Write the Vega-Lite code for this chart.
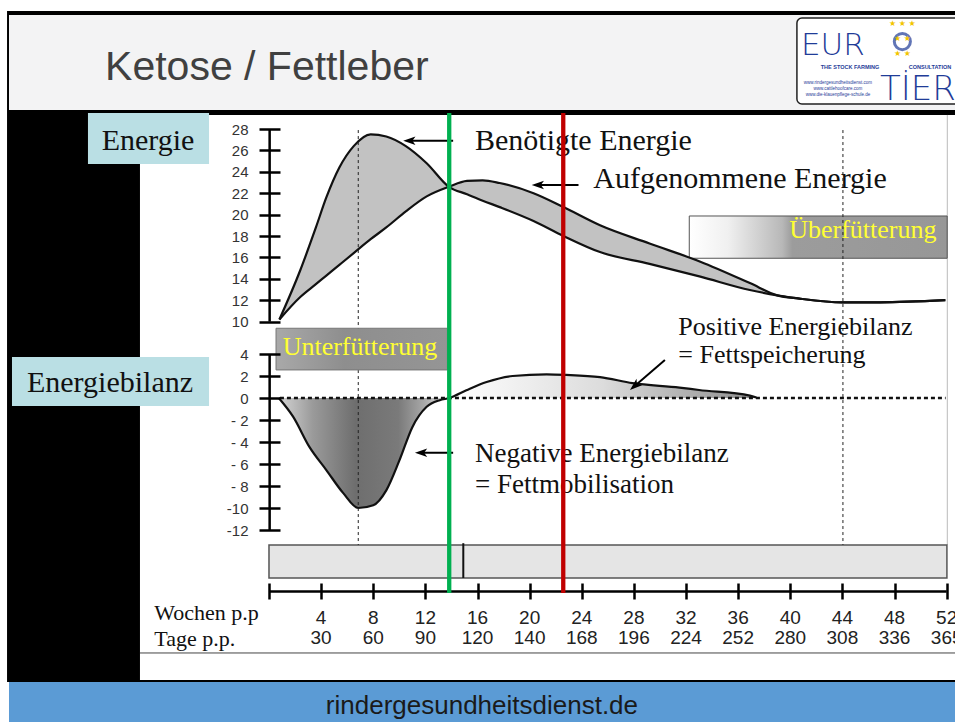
{
  "$schema": "https://vega.github.io/schema/vega-lite/v6.json",
  "width": 955,
  "height": 722,
  "autosize": {"type": "none"},
  "padding": 0,
  "background": "#ffffff",
  "config": {"view": {"stroke": null}, "axis": {"grid": false, "title": null}},
  "datasets": {
    "eins": [{}],
    "energie": [
      {"woche": 0.8, "benoetigt": 10.2, "aufgenommen": 10.2},
      {"woche": 2.4, "benoetigt": 14.8, "aufgenommen": 12.3},
      {"woche": 3.6, "benoetigt": 18.8, "aufgenommen": 13.5},
      {"woche": 4.4, "benoetigt": 21.6, "aufgenommen": 14.3},
      {"woche": 5.4, "benoetigt": 24.4, "aufgenommen": 15.3},
      {"woche": 6.5, "benoetigt": 26.4, "aufgenommen": 16.4},
      {"woche": 7.8, "benoetigt": 27.5, "aufgenommen": 17.7},
      {"woche": 9.0, "benoetigt": 27.3, "aufgenommen": 18.8},
      {"woche": 10.5, "benoetigt": 26.4, "aufgenommen": 20.3},
      {"woche": 12.1, "benoetigt": 24.8, "aufgenommen": 21.7},
      {"woche": 13.8, "benoetigt": 22.6, "aufgenommen": 22.6},
      {"woche": 15.2, "benoetigt": 21.9, "aufgenommen": 23.15},
      {"woche": 16.4, "benoetigt": 21.3, "aufgenommen": 23.2},
      {"woche": 17.7, "benoetigt": 20.7, "aufgenommen": 22.95},
      {"woche": 20.3, "benoetigt": 19.4, "aufgenommen": 22.0},
      {"woche": 22.6, "benoetigt": 18.0, "aufgenommen": 20.7},
      {"woche": 25.4, "benoetigt": 16.5, "aufgenommen": 19.0},
      {"woche": 29.2, "benoetigt": 15.4, "aufgenommen": 17.3},
      {"woche": 33.1, "benoetigt": 14.2, "aufgenommen": 15.6},
      {"woche": 36.9, "benoetigt": 12.95, "aufgenommen": 13.6},
      {"woche": 39.0, "benoetigt": 12.45, "aufgenommen": 12.45},
      {"woche": 40.7, "benoetigt": 12.15, "aufgenommen": 12.15},
      {"woche": 44.0, "benoetigt": 11.8, "aufgenommen": 11.8},
      {"woche": 46.9, "benoetigt": 11.8, "aufgenommen": 11.8},
      {"woche": 51.9, "benoetigt": 12.0, "aufgenommen": 12.0}
    ],
    "bilanz": [
      {"woche": 0.75, "bilanz": 0, "phase": "neg"},
      {"woche": 1.85, "bilanz": -1.7, "phase": "neg"},
      {"woche": 3.1, "bilanz": -4.45, "phase": "neg"},
      {"woche": 4.4, "bilanz": -6.55, "phase": "neg"},
      {"woche": 5.7, "bilanz": -8.65, "phase": "neg"},
      {"woche": 6.85, "bilanz": -10.0, "phase": "neg"},
      {"woche": 8.0, "bilanz": -9.75, "phase": "neg"},
      {"woche": 9.0, "bilanz": -8.4, "phase": "neg"},
      {"woche": 10.0, "bilanz": -5.7, "phase": "neg"},
      {"woche": 11.0, "bilanz": -2.65, "phase": "neg"},
      {"woche": 12.1, "bilanz": -0.8, "phase": "neg"},
      {"woche": 13.1, "bilanz": -0.2, "phase": "neg"},
      {"woche": 13.85, "bilanz": 0, "phase": "beide"},
      {"woche": 15.15, "bilanz": 0.7, "phase": "pos"},
      {"woche": 16.7, "bilanz": 1.45, "phase": "pos"},
      {"woche": 18.7, "bilanz": 2.0, "phase": "pos"},
      {"woche": 21.3, "bilanz": 2.15, "phase": "pos"},
      {"woche": 22.8, "bilanz": 2.1, "phase": "pos"},
      {"woche": 25.4, "bilanz": 1.9, "phase": "pos"},
      {"woche": 27.9, "bilanz": 1.35, "phase": "pos"},
      {"woche": 31.5, "bilanz": 0.95, "phase": "pos"},
      {"woche": 33.0, "bilanz": 0.73, "phase": "pos"},
      {"woche": 36.9, "bilanz": 0.22, "phase": "pos"},
      {"woche": 37.4, "bilanz": 0.04, "phase": "pos"}
    ],
    "zeit": [
      {"woche": 4, "tage": 30}, {"woche": 8, "tage": 60}, {"woche": 12, "tage": 90},
      {"woche": 16, "tage": 120}, {"woche": 20, "tage": 140}, {"woche": 24, "tage": 168},
      {"woche": 28, "tage": 196}, {"woche": 32, "tage": 224}, {"woche": 36, "tage": 252},
      {"woche": 40, "tage": 280}, {"woche": 44, "tage": 308}, {"woche": 48, "tage": 336},
      {"woche": 52, "tage": 365}
    ]
  },
  "resolve": {"scale": {"y": "independent"}},
  "layer": [
    {
      "layer": [
        {"data": {"name": "eins"}, "mark": {"type": "rect", "color": "#000000"},
         "encoding": {"x": {"datum": -20.1, "type": "quantitative", "scale": {"domain": [-20.64, 52.64]},
                            "axis": {"orient": "bottom", "offset": -139, "values": [0, 4, 8, 12, 16, 20, 24, 28, 32, 36, 40, 44, 48, 52], "labels": false, "domain": false, "grid": false, "title": null,
                                     "ticks": true, "tickSize": 16, "tickWidth": 2.5, "tickColor": "#000000", "zindex": 1}},
                      "x2": {"datum": 53},
                      "y": {"datum": 35.18, "type": "quantitative", "scale": {"domain": [-29.4545, 36.1818]}, "axis": null}, "y2": {"datum": -25.82}}},
        {"data": {"name": "eins"}, "mark": {"type": "rect", "color": "#f3f3f4"},
         "encoding": {"x": {"datum": -19.95, "type": "quantitative", "scale": {"domain": [-20.64, 52.64]}}, "x2": {"datum": 53},
                      "y": {"datum": 34.82, "type": "quantitative", "scale": {"domain": [-29.4545, 36.1818]}, "axis": null}, "y2": {"datum": 26.18}}},
        {"data": {"name": "eins"}, "mark": {"type": "rect", "color": "#ffffff"},
         "encoding": {"x": {"datum": -9.9, "type": "quantitative", "scale": {"domain": [-20.64, 52.64]}}, "x2": {"datum": 53},
                      "y": {"datum": 25.73, "type": "quantitative", "scale": {"domain": [-29.4545, 36.1818]}, "axis": null}, "y2": {"datum": -25.64}}},
        {"data": {"name": "eins"}, "mark": {"type": "rect", "color": "#5b9bd5"},
         "encoding": {"x": {"datum": -19.95, "type": "quantitative", "scale": {"domain": [-20.64, 52.64]}}, "x2": {"datum": 53},
                      "y": {"datum": -25.82, "type": "quantitative", "scale": {"domain": [-29.4545, 36.1818]}, "axis": null}, "y2": {"datum": -30}}},
        {"data": {"name": "eins"}, "mark": {"type": "rule", "color": "#444444", "strokeWidth": 1},
         "encoding": {"x": {"datum": -9.9, "type": "quantitative", "scale": {"domain": [-20.64, 52.64]}}, "x2": {"datum": 53},
                      "y": {"datum": -23.18, "type": "quantitative", "scale": {"domain": [-29.4545, 36.1818]}, "axis": null}}},
        {"data": {"name": "eins"}, "mark": {"type": "rule", "color": "#bbbbbb", "strokeWidth": 1},
         "encoding": {"x": {"datum": 52.05, "type": "quantitative", "scale": {"domain": [-20.64, 52.64]}},
                      "y": {"datum": 25.73, "type": "quantitative", "scale": {"domain": [-29.4545, 36.1818]}, "axis": null}, "y2": {"datum": -13.36}}},
        {"data": {"name": "eins"}, "mark": {"type": "rect", "color": "#e5e5e5", "stroke": "#555555", "strokeWidth": 1.5},
         "encoding": {"x": {"datum": 0, "type": "quantitative", "scale": {"domain": [-20.64, 52.64]}}, "x2": {"datum": 52.02},
                      "y": {"datum": -13.36, "type": "quantitative", "scale": {"domain": [-29.4545, 36.1818]}, "axis": null}, "y2": {"datum": -16.36}}},
        {"data": {"name": "eins"}, "mark": {"type": "rule", "color": "#111111", "strokeWidth": 2},
         "encoding": {"x": {"datum": 14.91, "type": "quantitative", "scale": {"domain": [-20.64, 52.64]}},
                      "y": {"datum": -13.2, "type": "quantitative", "scale": {"domain": [-29.4545, 36.1818]}, "axis": null}, "y2": {"datum": -16.36}}},
        {"data": {"name": "eins"}, "mark": {"type": "rect", "color": "#badfe4"},
         "encoding": {"x": {"datum": -13.89, "type": "quantitative", "scale": {"domain": [-20.64, 52.64]}}, "x2": {"datum": -4.6},
                      "y": {"datum": 25.91, "type": "quantitative", "scale": {"domain": [-29.4545, 36.1818]}, "axis": null}, "y2": {"datum": 21.27}}},
        {"data": {"name": "eins"}, "mark": {"type": "rect", "color": "#badfe4"},
         "encoding": {"x": {"datum": -19.72, "type": "quantitative", "scale": {"domain": [-20.64, 52.64]}}, "x2": {"datum": -4.6},
                      "y": {"datum": 3.73, "type": "quantitative", "scale": {"domain": [-29.4545, 36.1818]}, "axis": null}, "y2": {"datum": -0.73}}},
        {"data": {"name": "eins"}, "mark": {"type": "text", "font": "Liberation Serif", "fontSize": 30, "align": "center", "baseline": "alphabetic", "color": "#111111"},
         "encoding": {"x": {"datum": -9.28, "type": "quantitative", "scale": {"domain": [-20.64, 52.64]}},
                      "y": {"datum": 22.55, "type": "quantitative", "scale": {"domain": [-29.4545, 36.1818]}, "axis": null}, "text": {"value": "Energie"}}},
        {"data": {"name": "eins"}, "mark": {"type": "text", "font": "Liberation Serif", "fontSize": 30, "align": "center", "baseline": "alphabetic", "color": "#111111"},
         "encoding": {"x": {"datum": -12.2, "type": "quantitative", "scale": {"domain": [-20.64, 52.64]}},
                      "y": {"datum": 0.57, "type": "quantitative", "scale": {"domain": [-29.4545, 36.1818]}, "axis": null}, "text": {"value": "Energiebilanz"}}},
        {"data": {"name": "eins"}, "mark": {"type": "text", "font": "Liberation Sans", "fontSize": 41, "align": "left", "baseline": "alphabetic", "color": "#404040"},
         "encoding": {"x": {"datum": -12.58, "type": "quantitative", "scale": {"domain": [-20.64, 52.64]}},
                      "y": {"datum": 28.91, "type": "quantitative", "scale": {"domain": [-29.4545, 36.1818]}, "axis": null}, "text": {"value": "Ketose / Fettleber"}}},
        {"data": {"name": "eins"}, "mark": {"type": "text", "font": "Liberation Sans", "fontSize": 26, "align": "center", "baseline": "alphabetic", "color": "#1a1a1a"},
         "encoding": {"x": {"datum": 16.34, "type": "quantitative", "scale": {"domain": [-20.64, 52.64]}},
                      "y": {"datum": -28.73, "type": "quantitative", "scale": {"domain": [-29.4545, 36.1818]}, "axis": null}, "text": {"value": "rindergesundheitsdienst.de"}}},
        {"data": {"name": "eins"}, "mark": {"type": "rect", "color": "#ffffff", "stroke": "#222222", "strokeWidth": 1.5, "cornerRadius": 5},
         "encoding": {"x": {"datum": 40.51, "type": "quantitative", "scale": {"domain": [-20.64, 52.64]}}, "x2": {"datum": 53.3},
                      "y": {"datum": 34.55, "type": "quantitative", "scale": {"domain": [-29.4545, 36.1818]}, "axis": null}, "y2": {"datum": 26.73}}},
        {"data": {"name": "eins"}, "mark": {"type": "text", "font": "DejaVu Sans", "fontWeight": 200, "fontSize": 31, "align": "left", "baseline": "alphabetic", "color": "#1f3c98"},
         "encoding": {"x": {"datum": 40.82, "type": "quantitative", "scale": {"domain": [-20.64, 52.64]}},
                      "y": {"datum": 31.2, "type": "quantitative", "scale": {"domain": [-29.4545, 36.1818]}, "axis": null}, "text": {"value": "EUR"}}},
        {"data": {"name": "eins"}, "mark": {"type": "point", "filled": false, "color": "#1f3c98", "strokeWidth": 3, "size": 260},
         "encoding": {"x": {"datum": 48.6, "type": "quantitative", "scale": {"domain": [-20.64, 52.64]}},
                      "y": {"datum": 32.4, "type": "quantitative", "scale": {"domain": [-29.4545, 36.1818]}, "axis": null}}},
        {"data": {"name": "eins"}, "mark": {"type": "text", "font": "DejaVu Sans", "fontSize": 8, "align": "center", "baseline": "middle", "color": "#f2c500"},
         "encoding": {"x": {"datum": 48.6, "type": "quantitative", "scale": {"domain": [-20.64, 52.64]}},
                      "y": {"datum": 34.0, "type": "quantitative", "scale": {"domain": [-29.4545, 36.1818]}, "axis": null}, "text": {"value": "★ ★ ★"}}},
        {"data": {"name": "eins"}, "mark": {"type": "text", "font": "DejaVu Sans", "fontSize": 8, "align": "center", "baseline": "middle", "color": "#f2c500"},
         "encoding": {"x": {"datum": 48.6, "type": "quantitative", "scale": {"domain": [-20.64, 52.64]}},
                      "y": {"datum": 32.6, "type": "quantitative", "scale": {"domain": [-29.4545, 36.1818]}, "axis": null}, "text": {"value": "★           ★"}}},
        {"data": {"name": "eins"}, "mark": {"type": "text", "font": "DejaVu Sans", "fontSize": 8, "align": "center", "baseline": "middle", "color": "#f2c500"},
         "encoding": {"x": {"datum": 48.6, "type": "quantitative", "scale": {"domain": [-20.64, 52.64]}},
                      "y": {"datum": 31.3, "type": "quantitative", "scale": {"domain": [-29.4545, 36.1818]}, "axis": null}, "text": {"value": "★         ★"}}},
        {"data": {"name": "eins"}, "mark": {"type": "text", "font": "Liberation Sans", "fontSize": 5.5, "fontWeight": "bold", "align": "center", "baseline": "middle", "color": "#1f3c98"},
         "encoding": {"x": {"datum": 44.58, "type": "quantitative", "scale": {"domain": [-20.64, 52.64]}},
                      "y": {"datum": 30.1, "type": "quantitative", "scale": {"domain": [-29.4545, 36.1818]}, "axis": null}, "text": {"value": "THE STOCK FARMING"}}},
        {"data": {"name": "eins"}, "mark": {"type": "text", "font": "Liberation Sans", "fontSize": 5.5, "fontWeight": "bold", "align": "center", "baseline": "middle", "color": "#1f3c98"},
         "encoding": {"x": {"datum": 50.72, "type": "quantitative", "scale": {"domain": [-20.64, 52.64]}},
                      "y": {"datum": 30.1, "type": "quantitative", "scale": {"domain": [-29.4545, 36.1818]}, "axis": null}, "text": {"value": "CONSULTATION"}}},
        {"data": {"name": "eins"}, "mark": {"type": "text", "font": "Liberation Sans", "fontSize": 4.5, "align": "center", "baseline": "middle", "color": "#1f3c98"},
         "encoding": {"x": {"datum": 43.66, "type": "quantitative", "scale": {"domain": [-20.64, 52.64]}},
                      "y": {"datum": 28.64, "type": "quantitative", "scale": {"domain": [-29.4545, 36.1818]}, "axis": null}, "text": {"value": "www.rindergesundheitsdienst.com"}}},
        {"data": {"name": "eins"}, "mark": {"type": "text", "font": "Liberation Sans", "fontSize": 4.5, "align": "center", "baseline": "middle", "color": "#1f3c98"},
         "encoding": {"x": {"datum": 43.66, "type": "quantitative", "scale": {"domain": [-20.64, 52.64]}},
                      "y": {"datum": 28.09, "type": "quantitative", "scale": {"domain": [-29.4545, 36.1818]}, "axis": null}, "text": {"value": "www.cattlehoofcare.com"}}},
        {"data": {"name": "eins"}, "mark": {"type": "text", "font": "Liberation Sans", "fontSize": 4.5, "align": "center", "baseline": "middle", "color": "#1f3c98"},
         "encoding": {"x": {"datum": 43.66, "type": "quantitative", "scale": {"domain": [-20.64, 52.64]}},
                      "y": {"datum": 27.55, "type": "quantitative", "scale": {"domain": [-29.4545, 36.1818]}, "axis": null}, "text": {"value": "www.die-klauenpflege-schule.de"}}},
        {"data": {"name": "eins"}, "mark": {"type": "text", "font": "DejaVu Sans", "fontWeight": 200, "fontSize": 34, "align": "left", "baseline": "alphabetic", "color": "#1f3c98"},
         "encoding": {"x": {"datum": 46.88, "type": "quantitative", "scale": {"domain": [-20.64, 52.64]}},
                      "y": {"datum": 27.09, "type": "quantitative", "scale": {"domain": [-29.4545, 36.1818]}, "axis": null}, "text": {"value": "TİER"}}}
      ]
    },
    {
      "layer": [
        {"data": {"name": "eins"},
         "mark": {"type": "rect", "stroke": "#555555", "strokeWidth": 1,
                  "fill": {"gradient": "linear", "x1": 0, "y1": 0, "x2": 1, "y2": 0,
                           "stops": [{"offset": 0, "color": "#ffffff"}, {"offset": 0.15, "color": "#f0f0f0"}, {"offset": 0.36, "color": "#b8b8b8"}, {"offset": 0.4, "color": "#9c9c9c"}, {"offset": 1, "color": "#979797"}]}},
         "encoding": {"x": {"datum": 32.25, "type": "quantitative", "scale": {"domain": [-20.64, 52.64]}}, "x2": {"datum": 52.04},
                      "y": {"datum": 19.87, "type": "quantitative", "scale": {"domain": [-27.42, 40.056]},
                            "axis": {"orient": "left", "offset": -280, "values": [10, 12, 14, 16, 18, 20, 22, 24, 26, 28], "tickSize": 21, "tickWidth": 2.5, "tickColor": "#000000",
                                     "domain": false, "grid": false, "title": null, "labelFont": "Liberation Sans", "labelFontSize": 15, "labelColor": "#333333", "labelPadding": 11, "zindex": 1}},
                      "y2": {"datum": 15.92}}},
        {"data": {"name": "eins"}, "mark": {"type": "text", "font": "Liberation Serif", "fontSize": 26, "align": "left", "baseline": "alphabetic", "color": "#ffff33"},
         "encoding": {"x": {"datum": 39.92, "type": "quantitative", "scale": {"domain": [-20.64, 52.64]}},
                      "y": {"datum": 17.81, "type": "quantitative", "scale": {"domain": [-27.42, 40.056]}}, "text": {"value": "Überfütterung"}}},
        {"data": {"name": "energie"}, "mark": {"type": "area", "color": "#c2c2c2", "interpolate": "monotone"},
         "encoding": {"x": {"field": "woche", "type": "quantitative", "scale": {"domain": [-20.64, 52.64]}},
                      "y": {"field": "benoetigt", "type": "quantitative", "scale": {"domain": [-27.42, 40.056]}},
                      "y2": {"field": "aufgenommen"}}},
        {"data": {"name": "energie"}, "mark": {"type": "line", "color": "#111111", "strokeWidth": 2.2, "interpolate": "monotone"},
         "encoding": {"x": {"field": "woche", "type": "quantitative", "scale": {"domain": [-20.64, 52.64]}},
                      "y": {"field": "aufgenommen", "type": "quantitative", "scale": {"domain": [-27.42, 40.056]}}}},
        {"data": {"name": "energie"}, "mark": {"type": "line", "color": "#111111", "strokeWidth": 2.2, "interpolate": "monotone"},
         "encoding": {"x": {"field": "woche", "type": "quantitative", "scale": {"domain": [-20.64, 52.64]}},
                      "y": {"field": "benoetigt", "type": "quantitative", "scale": {"domain": [-27.42, 40.056]}}}},
        {"data": {"name": "eins"}, "mark": {"type": "rule", "color": "#000000", "strokeWidth": 2.5},
         "encoding": {"x": {"datum": 0.05, "type": "quantitative", "scale": {"domain": [-20.64, 52.64]}},
                      "y": {"datum": 28, "type": "quantitative", "scale": {"domain": [-27.42, 40.056]}}, "y2": {"datum": 10}}},
        {"data": {"name": "eins"}, "mark": {"type": "rule", "color": "#000000", "strokeWidth": 2},
         "encoding": {"x": {"datum": 10.8, "type": "quantitative", "scale": {"domain": [-20.64, 52.64]}}, "x2": {"datum": 14.13},
                      "y": {"datum": 26.91, "type": "quantitative", "scale": {"domain": [-27.42, 40.056]}}}},
        {"data": {"name": "eins"}, "mark": {"type": "point", "shape": "M0,0L2,-0.7L1.5,0L2,0.7Z", "filled": true, "color": "#000000", "opacity": 1, "size": 150},
         "encoding": {"x": {"datum": 10.3, "type": "quantitative", "scale": {"domain": [-20.64, 52.64]}},
                      "y": {"datum": 26.91, "type": "quantitative", "scale": {"domain": [-27.42, 40.056]}}}},
        {"data": {"name": "eins"}, "mark": {"type": "rule", "color": "#000000", "strokeWidth": 2},
         "encoding": {"x": {"datum": 20.6, "type": "quantitative", "scale": {"domain": [-20.64, 52.64]}}, "x2": {"datum": 23.75},
                      "y": {"datum": 22.77, "type": "quantitative", "scale": {"domain": [-27.42, 40.056]}}}},
        {"data": {"name": "eins"}, "mark": {"type": "point", "shape": "M0,0L2,-0.7L1.5,0L2,0.7Z", "filled": true, "color": "#000000", "opacity": 1, "size": 150},
         "encoding": {"x": {"datum": 20.16, "type": "quantitative", "scale": {"domain": [-20.64, 52.64]}},
                      "y": {"datum": 22.77, "type": "quantitative", "scale": {"domain": [-27.42, 40.056]}}}},
        {"data": {"name": "eins"}, "mark": {"type": "text", "font": "Liberation Serif", "fontSize": 30, "align": "left", "baseline": "alphabetic", "color": "#111111"},
         "encoding": {"x": {"datum": 15.81, "type": "quantitative", "scale": {"domain": [-20.64, 52.64]}},
                      "y": {"datum": 26.04, "type": "quantitative", "scale": {"domain": [-27.42, 40.056]}}, "text": {"value": "Benötigte Energie"}}},
        {"data": {"name": "eins"}, "mark": {"type": "text", "font": "Liberation Serif", "fontSize": 30, "align": "left", "baseline": "alphabetic", "color": "#111111"},
         "encoding": {"x": {"datum": 24.88, "type": "quantitative", "scale": {"domain": [-20.64, 52.64]}},
                      "y": {"datum": 22.46, "type": "quantitative", "scale": {"domain": [-27.42, 40.056]}}, "text": {"value": "Aufgenommene Energie"}}}
      ]
    },
    {
      "layer": [
        {"data": {"name": "bilanz"}, "transform": [{"filter": "datum.phase != 'pos'"}],
         "mark": {"type": "area", "interpolate": "monotone",
                  "fill": {"gradient": "linear", "x1": 0, "y1": 0, "x2": 1, "y2": 0,
                           "stops": [{"offset": 0, "color": "#d5d5d5"}, {"offset": 0.2, "color": "#9a9a9a"}, {"offset": 0.45, "color": "#6e6e6e"}, {"offset": 0.7, "color": "#7a7a7a"}, {"offset": 0.85, "color": "#a8a8a8"}, {"offset": 1, "color": "#e8e8e8"}]}},
         "encoding": {"x": {"field": "woche", "type": "quantitative", "scale": {"domain": [-20.64, 52.64]}},
                      "y": {"field": "bilanz", "type": "quantitative", "scale": {"domain": [-29.4545, 36.1818]},
                            "axis": {"orient": "left", "offset": -280, "values": [-12, -10, -8, -6, -4, -2, 0, 2, 4], "tickSize": 21, "tickWidth": 2.5, "tickColor": "#000000",
                                     "labelExpr": "datum.value < 0 ? (datum.value > -10 ? '- ' + (-datum.value) : '-' + (-datum.value)) : '' + datum.value",
                                     "domain": false, "grid": false, "title": null, "labelFont": "Liberation Sans", "labelFontSize": 15, "labelColor": "#333333", "labelPadding": 11, "zindex": 1}},
                      "y2": {"datum": 0}}},
        {"data": {"name": "bilanz"}, "transform": [{"filter": "datum.phase != 'neg'"}],
         "mark": {"type": "area", "interpolate": "monotone",
                  "fill": {"gradient": "linear", "x1": 0, "y1": 0, "x2": 1, "y2": 0,
                           "stops": [{"offset": 0, "color": "#ffffff"}, {"offset": 0.5, "color": "#dcdcdc"}, {"offset": 1, "color": "#8c8c8c"}]}},
         "encoding": {"x": {"field": "woche", "type": "quantitative", "scale": {"domain": [-20.64, 52.64]}},
                      "y": {"field": "bilanz", "type": "quantitative", "scale": {"domain": [-29.4545, 36.1818]}},
                      "y2": {"datum": 0}}},
        {"data": {"name": "bilanz"}, "mark": {"type": "line", "color": "#111111", "strokeWidth": 2.2, "interpolate": "monotone"},
         "encoding": {"x": {"field": "woche", "type": "quantitative", "scale": {"domain": [-20.64, 52.64]}},
                      "y": {"field": "bilanz", "type": "quantitative", "scale": {"domain": [-29.4545, 36.1818]}}}},
        {"data": {"name": "eins"}, "mark": {"type": "rule", "color": "#111111", "strokeWidth": 2.5, "strokeDash": [4, 3]},
         "encoding": {"x": {"datum": 0.84, "type": "quantitative", "scale": {"domain": [-20.64, 52.64]}}, "x2": {"datum": 51.92},
                      "y": {"datum": 0, "type": "quantitative", "scale": {"domain": [-29.4545, 36.1818]}}}},
        {"data": {"name": "eins"}, "mark": {"type": "rule", "color": "#222222", "strokeWidth": 1, "strokeDash": [3, 3]},
         "encoding": {"x": {"datum": 6.85, "type": "quantitative", "scale": {"domain": [-20.64, 52.64]}},
                      "y": {"datum": 24.36, "type": "quantitative", "scale": {"domain": [-29.4545, 36.1818]}}, "y2": {"datum": -13.36}}},
        {"data": {"name": "eins"}, "mark": {"type": "rule", "color": "#222222", "strokeWidth": 1, "strokeDash": [3, 3]},
         "encoding": {"x": {"datum": 44.04, "type": "quantitative", "scale": {"domain": [-20.64, 52.64]}},
                      "y": {"datum": 24.36, "type": "quantitative", "scale": {"domain": [-29.4545, 36.1818]}}, "y2": {"datum": -13.36}}},
        {"data": {"name": "eins"},
         "mark": {"type": "rect", "stroke": "#777777", "strokeWidth": 1,
                  "fill": {"gradient": "linear", "x1": 0, "y1": 0, "x2": 1, "y2": 0,
                           "stops": [{"offset": 0, "color": "#a9a9a9"}, {"offset": 0.4, "color": "#8e8e8e"}, {"offset": 1, "color": "#959595"}]}},
         "encoding": {"x": {"datum": 0.54, "type": "quantitative", "scale": {"domain": [-20.64, 52.64]}}, "x2": {"datum": 13.69},
                      "y": {"datum": 6.34, "type": "quantitative", "scale": {"domain": [-29.4545, 36.1818]}}, "y2": {"datum": 2.55}}},
        {"data": {"name": "eins"}, "mark": {"type": "text", "font": "Liberation Serif", "fontSize": 26, "align": "left", "baseline": "alphabetic", "color": "#ffff33"},
         "encoding": {"x": {"datum": 1.05, "type": "quantitative", "scale": {"domain": [-20.64, 52.64]}},
                      "y": {"datum": 3.91, "type": "quantitative", "scale": {"domain": [-29.4545, 36.1818]}}, "text": {"value": "Unterfütterung"}}},
        {"data": {"name": "eins"}, "mark": {"type": "rule", "color": "#000000", "strokeWidth": 2.5},
         "encoding": {"x": {"datum": 0.05, "type": "quantitative", "scale": {"domain": [-20.64, 52.64]}},
                      "y": {"datum": 4, "type": "quantitative", "scale": {"domain": [-29.4545, 36.1818]}}, "y2": {"datum": -12}}},
        {"data": {"name": "eins"}, "mark": {"type": "rule", "color": "#000000", "strokeWidth": 2.5},
         "encoding": {"x": {"datum": 0, "type": "quantitative", "scale": {"domain": [-20.64, 52.64]}}, "x2": {"datum": 52},
                      "y": {"datum": -17.6, "type": "quantitative", "scale": {"domain": [-29.4545, 36.1818]}}}},
        {"data": {"name": "zeit"}, "mark": {"type": "text", "font": "Liberation Sans", "fontSize": 19, "align": "center", "baseline": "middle", "color": "#222222"},
         "encoding": {"x": {"field": "woche", "type": "quantitative", "scale": {"domain": [-20.64, 52.64]}},
                      "y": {"datum": -20, "type": "quantitative", "scale": {"domain": [-29.4545, 36.1818]}},
                      "text": {"field": "woche"}}},
        {"data": {"name": "zeit"}, "mark": {"type": "text", "font": "Liberation Sans", "fontSize": 19, "align": "center", "baseline": "middle", "color": "#222222"},
         "encoding": {"x": {"field": "woche", "type": "quantitative", "scale": {"domain": [-20.64, 52.64]}},
                      "y": {"datum": -21.82, "type": "quantitative", "scale": {"domain": [-29.4545, 36.1818]}},
                      "text": {"field": "tage"}}},
        {"data": {"name": "eins"}, "mark": {"type": "text", "font": "Liberation Serif", "fontSize": 22, "align": "left", "baseline": "alphabetic", "color": "#111111"},
         "encoding": {"x": {"datum": -8.8, "type": "quantitative", "scale": {"domain": [-20.64, 52.64]}},
                      "y": {"datum": -20.18, "type": "quantitative", "scale": {"domain": [-29.4545, 36.1818]}}, "text": {"value": "Wochen p.p"}}},
        {"data": {"name": "eins"}, "mark": {"type": "text", "font": "Liberation Serif", "fontSize": 22, "align": "left", "baseline": "alphabetic", "color": "#111111"},
         "encoding": {"x": {"datum": -8.8, "type": "quantitative", "scale": {"domain": [-20.64, 52.64]}},
                      "y": {"datum": -22.59, "type": "quantitative", "scale": {"domain": [-29.4545, 36.1818]}}, "text": {"value": "Tage p.p."}}},
        {"data": {"name": "eins"}, "mark": {"type": "rule", "color": "#000000", "strokeWidth": 2},
         "encoding": {"x": {"datum": 11.7, "type": "quantitative", "scale": {"domain": [-20.64, 52.64]}}, "x2": {"datum": 14.13},
                      "y": {"datum": -4.97, "type": "quantitative", "scale": {"domain": [-29.4545, 36.1818]}}}},
        {"data": {"name": "eins"}, "mark": {"type": "point", "shape": "M0,0L2,-0.7L1.5,0L2,0.7Z", "filled": true, "color": "#000000", "opacity": 1, "size": 150},
         "encoding": {"x": {"datum": 11.2, "type": "quantitative", "scale": {"domain": [-20.64, 52.64]}},
                      "y": {"datum": -4.97, "type": "quantitative", "scale": {"domain": [-29.4545, 36.1818]}}}},
        {"data": {"name": "eins"}, "mark": {"type": "rule", "color": "#000000", "strokeWidth": 2},
         "encoding": {"x": {"datum": 30.38, "type": "quantitative", "scale": {"domain": [-20.64, 52.64]}}, "x2": {"datum": 27.93},
                      "y": {"datum": 3.45, "type": "quantitative", "scale": {"domain": [-29.4545, 36.1818]}}, "y2": {"datum": 0.96}}},
        {"data": {"name": "eins"}, "mark": {"type": "point", "shape": "M0,0L2,-0.7L1.5,0L2,0.7Z", "filled": true, "color": "#000000", "opacity": 1, "size": 150, "angle": -40.6},
         "encoding": {"x": {"datum": 27.7, "type": "quantitative", "scale": {"domain": [-20.64, 52.64]}},
                      "y": {"datum": 0.73, "type": "quantitative", "scale": {"domain": [-29.4545, 36.1818]}}}},
        {"data": {"name": "eins"}, "mark": {"type": "text", "font": "Liberation Serif", "fontSize": 27, "align": "left", "baseline": "alphabetic", "color": "#111111"},
         "encoding": {"x": {"datum": 15.81, "type": "quantitative", "scale": {"domain": [-20.64, 52.64]}},
                      "y": {"datum": -5.79, "type": "quantitative", "scale": {"domain": [-29.4545, 36.1818]}}, "text": {"value": "Negative Energiebilanz"}}},
        {"data": {"name": "eins"}, "mark": {"type": "text", "font": "Liberation Serif", "fontSize": 27, "align": "left", "baseline": "alphabetic", "color": "#111111"},
         "encoding": {"x": {"datum": 15.81, "type": "quantitative", "scale": {"domain": [-20.64, 52.64]}},
                      "y": {"datum": -8.66, "type": "quantitative", "scale": {"domain": [-29.4545, 36.1818]}}, "text": {"value": "= Fettmobilisation"}}},
        {"data": {"name": "eins"}, "mark": {"type": "text", "font": "Liberation Serif", "fontSize": 26, "align": "left", "baseline": "alphabetic", "color": "#111111"},
         "encoding": {"x": {"datum": 31.41, "type": "quantitative", "scale": {"domain": [-20.64, 52.64]}},
                      "y": {"datum": 5.73, "type": "quantitative", "scale": {"domain": [-29.4545, 36.1818]}}, "text": {"value": "Positive Energiebilanz"}}},
        {"data": {"name": "eins"}, "mark": {"type": "text", "font": "Liberation Serif", "fontSize": 26, "align": "left", "baseline": "alphabetic", "color": "#111111"},
         "encoding": {"x": {"datum": 31.41, "type": "quantitative", "scale": {"domain": [-20.64, 52.64]}},
                      "y": {"datum": 3.15, "type": "quantitative", "scale": {"domain": [-29.4545, 36.1818]}}, "text": {"value": "= Fettspeicherung"}}},
        {"data": {"name": "eins"}, "mark": {"type": "rule", "color": "#00b050", "strokeWidth": 4.3},
         "encoding": {"x": {"datum": 13.83, "type": "quantitative", "scale": {"domain": [-20.64, 52.64]}},
                      "y": {"datum": 25.91, "type": "quantitative", "scale": {"domain": [-29.4545, 36.1818]}}, "y2": {"datum": -17.73}}},
        {"data": {"name": "eins"}, "mark": {"type": "rule", "color": "#c00000", "strokeWidth": 4.3},
         "encoding": {"x": {"datum": 22.58, "type": "quantitative", "scale": {"domain": [-20.64, 52.64]}},
                      "y": {"datum": 25.91, "type": "quantitative", "scale": {"domain": [-29.4545, 36.1818]}}, "y2": {"datum": -17.73}}}
      ]
    }
  ]
}
